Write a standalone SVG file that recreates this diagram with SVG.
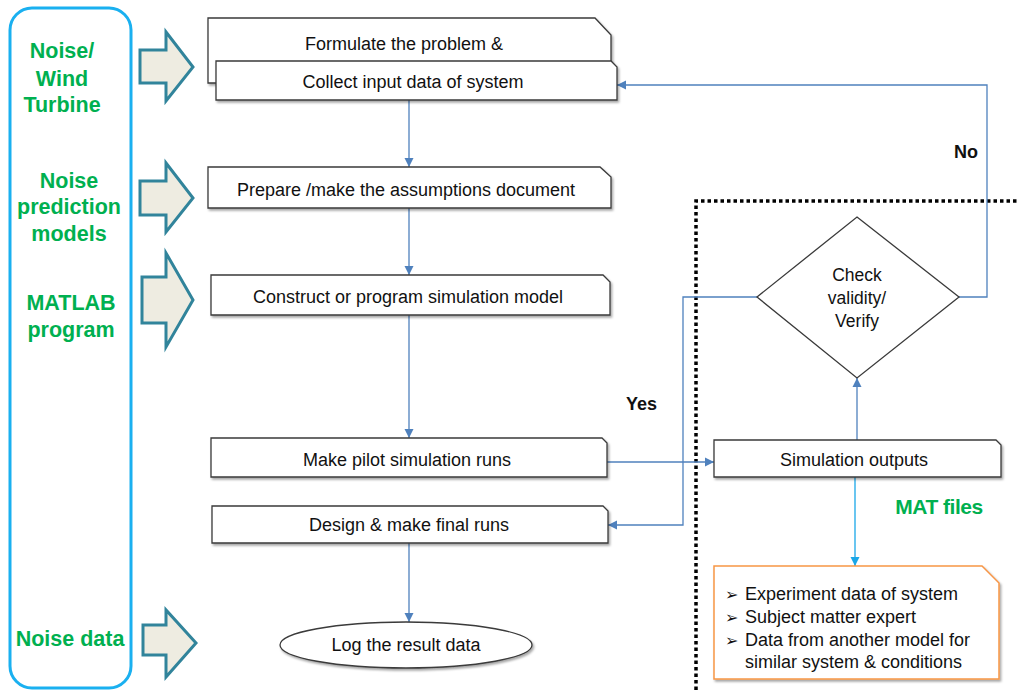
<svg xmlns="http://www.w3.org/2000/svg" width="1017" height="690" viewBox="0 0 1017 690">
<defs>
<style>
.box{fill:#fff;stroke:#3a3a3a;stroke-width:1.3;filter:url(#sh)}
.t{font-family:"Liberation Sans",Arial,sans-serif;font-size:18px;fill:#111;text-anchor:middle}
.d{font-family:"Liberation Sans",Arial,sans-serif;font-size:17.5px;fill:#111;text-anchor:middle}
.g{font-family:"Liberation Sans",Arial,sans-serif;font-size:21.5px;font-weight:bold;fill:#00B050;text-anchor:middle}
.b{font-family:"Liberation Sans",Arial,sans-serif;font-size:18px;font-weight:bold;fill:#111}
.ba{fill:#EEECE1;stroke:#31849B;stroke-width:3;stroke-linejoin:miter}
.c{fill:none;stroke:#4F81BD;stroke-width:1.3}
.o{font-family:"Liberation Sans",Arial,sans-serif;font-size:18px;fill:#111}
.bl{font-family:"DejaVu Sans",sans-serif;font-size:16px;fill:#111}
</style>
<filter id="sh" x="-5%" y="-20%" width="110%" height="150%">
<feDropShadow dx="1.5" dy="2" stdDeviation="1.2" flood-color="#000" flood-opacity="0.35"/>
</filter>
<marker id="ar" markerWidth="10" markerHeight="10" refX="9" refY="5" orient="auto" markerUnits="userSpaceOnUse">
<path d="M0,0.5 L9,5 L0,9.5 Z" fill="#4F81BD"/>
</marker>
<marker id="arc" markerWidth="10" markerHeight="10" refX="9" refY="5" orient="auto" markerUnits="userSpaceOnUse">
<path d="M0,0.5 L9,5 L0,9.5 Z" fill="#1AA7E8"/>
</marker>
</defs>
<rect width="1017" height="690" fill="#fff"/>

<g id="dotted-region">
<path d="M696,690 V201 H1017" fill="none" stroke="#000" stroke-width="3.5" stroke-dasharray="3.5,3"/>
</g>

<g id="inputs-panel">
<rect x="10" y="8" width="121" height="680" rx="22" fill="none" stroke="#1AB0F0" stroke-width="3"/>
<text class="g" x="62" y="58">Noise/</text>
<text class="g" x="62" y="86">Wind</text>
<text class="g" x="62" y="112">Turbine</text>
<text class="g" x="69" y="188">Noise</text>
<text class="g" x="69" y="214">prediction</text>
<text class="g" x="69" y="241">models</text>
<text class="g" x="71" y="310">MATLAB</text>
<text class="g" x="71" y="337">program</text>
<text class="g" x="70" y="646">Noise data</text>
</g>

<g id="block-arrows">
<path class="ba" d="M140,50 H166 V32 L193,67 L166,101 V83 H140 Z"/>
<path class="ba" d="M140,181 H166 V163 L193,198 L166,232 V215 H140 Z"/>
<path class="ba" d="M142,277 H166 V253 L193,300 L166,347 V323 H142 Z"/>
<path class="ba" d="M143,625 H166 V610 L196,643 L166,677 V655 H143 Z"/>
</g>

<g id="connectors">
<line class="c" x1="409" y1="100" x2="409" y2="167" marker-end="url(#ar)"/>
<line class="c" x1="409" y1="208" x2="409" y2="275" marker-end="url(#ar)"/>
<line class="c" x1="409" y1="315" x2="409" y2="438" marker-end="url(#ar)"/>
<line class="c" x1="607" y1="462" x2="714" y2="462" marker-end="url(#ar)"/>
<line class="c" x1="857" y1="440" x2="857" y2="378" marker-end="url(#ar)"/>
<polyline class="c" points="959,297 987,297 987,85 617,85" marker-end="url(#ar)"/>
<polyline class="c" points="757,297 683,297 683,525 608,525" marker-end="url(#ar)"/>
<line x1="855" y1="477" x2="855" y2="566" stroke="#1AA7E8" stroke-width="1.3" marker-end="url(#arc)"/>
<line class="c" x1="409" y1="543" x2="409" y2="622" marker-end="url(#ar)"/>
</g>

<g id="formulate">
<path class="box" d="M208,18 H595 L611,35 V83 H208 Z"/>
<text class="t" x="404" y="50">Formulate the problem &amp;</text>
</g>
<g id="collect">
<path class="box" d="M216,61 H611 L617,67 V100 H216 Z"/>
<text class="t" x="413" y="88">Collect input data of system</text>
</g>
<g id="prepare">
<path class="box" d="M208,167 H600 L611,177 V208 H208 Z"/>
<text class="t" x="406" y="196">Prepare /make the assumptions document</text>
</g>
<g id="construct">
<path class="box" d="M211,275 H603 L610,282 V315 H211 Z"/>
<text class="t" x="408" y="303">Construct  or program simulation model</text>
</g>
<g id="pilot">
<path class="box" d="M211,438 H602 L607,443 V477 H211 Z"/>
<text class="t" x="407" y="466">Make pilot simulation runs</text>
</g>
<g id="final">
<path class="box" d="M212,506 H603 L608,511 V543 H212 Z"/>
<text class="t" x="409" y="531">Design &amp; make final runs</text>
</g>
<g id="sim-outputs">
<path class="box" d="M714,440 H996 L1001,445 V477 H714 Z"/>
<text class="t" x="854" y="466">Simulation  outputs</text>
</g>
<g id="check">
<path d="M857,217 L959,297 L857,378 L757,297 Z" fill="#fff" stroke="#3a3a3a" stroke-width="1.3"/>
<text class="d" x="857" y="281">Check</text>
<text class="d" x="857" y="304">validity/</text>
<text class="d" x="857" y="327">Verify</text>
</g>
<g id="log">
<ellipse cx="406" cy="645" rx="126" ry="23" fill="#fff" stroke="#3a3a3a" stroke-width="1.3" filter="url(#sh)"/>
<text class="t" x="406" y="651">Log the  result  data</text>
</g>
<g id="validation-sources">
<path d="M714,566 H982 L999,583 V679 H714 Z" fill="#fff" stroke="#F79646" stroke-width="1.5" filter="url(#sh)"/>
<text class="bl" x="725" y="600">➢</text>
<text class="bl" x="725" y="623">➢</text>
<text class="bl" x="725" y="646">➢</text>
<text class="o" x="745" y="600">Experiment data of system</text>
<text class="o" x="745" y="623">Subject matter expert</text>
<text class="o" x="745" y="646">Data from another model for</text>
<text class="o" x="745" y="668">similar system  &amp; conditions</text>
</g>

<g id="labels">
<text class="b" x="954" y="158">No</text>
<text class="b" x="626" y="410">Yes</text>
<text class="g" x="939" y="514" style="font-size:21px;letter-spacing:-0.5px">MAT files</text>
</g>
</svg>
